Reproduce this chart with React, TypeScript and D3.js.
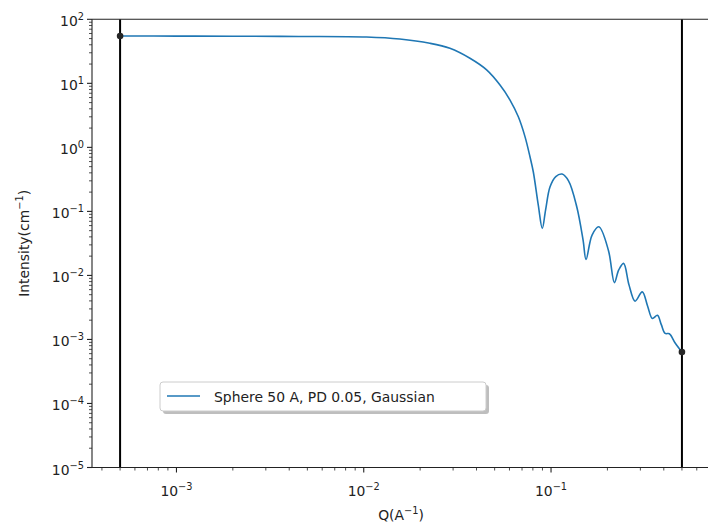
import React from 'react';
import * as d3 from 'd3';

// Q values (1/A)
const qValues = [
  5.0e-4, 1.0e-3, 2.0e-3, 4.5e-3, 0.01034, 0.01558, 0.02254, 0.02884, 0.0369, 0.0453,
  0.0534, 0.0604, 0.0669, 0.0726, 0.0772, 0.0804, 0.0855, 0.0898,
  0.0935, 0.0988, 0.1060, 0.1145, 0.1240, 0.1372, 0.1483, 0.1538, 0.1656, 0.1800,
  0.2024, 0.2180, 0.2296, 0.2440, 0.2610, 0.2810, 0.3070, 0.3280, 0.3475, 0.3700,
  0.3880, 0.4070, 0.4280, 0.4600, 0.5000,
];

// Intensity (1/cm)
const intensity = [
  54.8, 54.7, 54.5, 54.0, 52.9, 49.2, 42.2, 35.2, 24.6, 16.2,
  9.4, 5.48, 3.0, 1.47, 0.713, 0.416, 0.125, 0.0542,
  0.105, 0.242, 0.350, 0.383, 0.300, 0.118, 0.0356, 0.0178, 0.0427, 0.0574,
  0.0248, 0.00772, 0.0121, 0.0154, 0.00705, 0.00396, 0.00554, 0.0033, 0.00213, 0.00238,
  0.0017, 0.00124, 0.00123, 0.00088, 0.000634,
];

const cutoffs = [5e-4, 0.5];
const xMajor = [1e-3, 1e-2, 1e-1];
const xExp = ['−3', '−2', '−1'];
const yMajor = [1e2, 1e1, 1e0, 1e-1, 1e-2, 1e-3, 1e-4, 1e-5];
const yExp = ['2', '1', '0', '−1', '−2', '−3', '−4', '−5'];
const legendLabel = 'Sphere 50 A, PD 0.05, Gaussian';

const W = 708;
const H = 528;
const margin = { left: 92, top: 19.3, right: 710, bottom: 467.5 };
const font = 'DejaVu Sans';
const lineColor = '#1f77b4';

export default function App() {
  const x = d3.scaleLog().domain([3.54e-4, 0.706]).range([margin.left, margin.right]);
  const y = d3.scaleLog().domain([1e-5, 1e2]).range([margin.bottom, margin.top]);

  const pts: [number, number][] = qValues.map((q, i) => [x(q), y(intensity[i])]);
  const line = d3.line().curve(d3.curveCatmullRom.alpha(0.5));
  const path = line(pts) || '';

  const xMinor = x.ticks().filter(t => !xMajor.some(m => Math.abs(m - t) / m < 1e-6));
  const yMinor = y.ticks().filter(t => !yMajor.some(m => Math.abs(m - t) / m < 1e-6));

  const first = pts[0];
  const last = pts[pts.length - 1];

  return (
    <svg width={W} height={H} style={{ position: 'absolute', left: 0, top: 0, background: '#fff' }}
      fontFamily={font}>
      <rect x={0} y={0} width={W} height={H} fill="#fff" />

      {/* cutoff lines */}
      {cutoffs.map(c => (
        <line key={c} x1={x(c)} x2={x(c)} y1={margin.top} y2={margin.bottom} stroke="#000" strokeWidth={2} />
      ))}

      {/* curve */}
      <path d={path} fill="none" stroke={lineColor} strokeWidth={1.6} />
      <circle cx={first[0]} cy={first[1]} r={3.3} fill="#262626" />
      <circle cx={last[0]} cy={last[1]} r={3.3} fill="#262626" />

      {/* spines */}
      <line x1={margin.left} x2={margin.right} y1={margin.top} y2={margin.top} stroke="#222" strokeWidth={1.1} />
      <line x1={margin.left} x2={margin.right} y1={margin.bottom} y2={margin.bottom} stroke="#222" strokeWidth={1.1} />
      <line x1={margin.left} x2={margin.left} y1={margin.top} y2={margin.bottom} stroke="#222" strokeWidth={1.1} />

      {/* x ticks */}
      {xMajor.map((t, i) => (
        <g key={t}>
          <line x1={x(t)} x2={x(t)} y1={margin.bottom} y2={margin.bottom + 5} stroke="#222" strokeWidth={1.1} />
          <text x={x(t)} y={margin.bottom + 28} textAnchor="middle" fontSize={13.9} fill="#222">
            10<tspan fontSize={9.8} dy={-6}>{xExp[i]}</tspan>
          </text>
        </g>
      ))}
      {xMinor.map(t => (
        <line key={t} x1={x(t)} x2={x(t)} y1={margin.bottom} y2={margin.bottom + 3} stroke="#222" strokeWidth={0.8} />
      ))}

      {/* y ticks */}
      {yMajor.map((t, i) => (
        <g key={t}>
          <line x1={margin.left - 5} x2={margin.left} y1={y(t)} y2={y(t)} stroke="#222" strokeWidth={1.1} />
          <text x={margin.left - 8} y={y(t) + 7} textAnchor="end" fontSize={13.9} fill="#222">
            10<tspan fontSize={9.8} dy={-6}>{yExp[i]}</tspan>
          </text>
        </g>
      ))}
      {yMinor.map(t => (
        <line key={t} x1={margin.left - 3} x2={margin.left} y1={y(t)} y2={y(t)} stroke="#222" strokeWidth={0.8} />
      ))}

      {/* axis labels */}
      <text x={401} y={520} textAnchor="middle" fontSize={13.9} fill="#222">
        Q(A<tspan fontSize={9.8} dy={-6}>−1</tspan><tspan dy={6}>)</tspan>
      </text>
      <text transform={`translate(29, ${(margin.top + margin.bottom) / 2}) rotate(-90)`} textAnchor="middle"
        fontSize={13.9} fill="#222">
        Intensity(cm<tspan fontSize={9.8} dy={-6}>−1</tspan><tspan dy={6}>)</tspan>
      </text>

      {/* legend */}
      <rect x={163} y={385} width={326} height={29} rx={3} fill="#888" opacity={0.55} />
      <rect x={160} y={382} width={326} height={29} rx={3} fill="#fff" stroke="#ccc" strokeWidth={1} />
      <line x1={167} x2={200} y1={396} y2={396} stroke={lineColor} strokeWidth={1.6} />
      <text x={214} y={401.5} fontSize={13.9} fill="#222">{legendLabel}</text>
    </svg>
  );
}
